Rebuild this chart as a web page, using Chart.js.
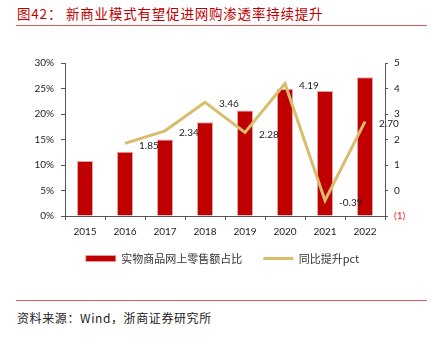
<!DOCTYPE html>
<html>
<head>
<meta charset="utf-8">
<script src="https://cdn.jsdelivr.net/npm/chart.js@4"></script>
<style>
  html, body { margin: 0; padding: 0; background: #fff; }
  #page { position: relative; width: 431px; height: 337px; overflow: hidden; font-family: "Noto Sans CJK SC", sans-serif; }
  .title { position: absolute; left: 17px; top: 3px; font-size: 13.5px; color: #C00000; white-space: nowrap; letter-spacing: 0.8px; }
  .rule { position: absolute; left: 16px; width: 411px; height: 1px; background: #E05A5A; }
  .source { position: absolute; left: 17px; top: 309px; font-size: 12px; color: #222; white-space: nowrap; letter-spacing: 0.6px; }
  #wrap { position: absolute; left: 0; top: 40px; width: 431px; height: 240px; }
</style>
</head>
<body>
<div id="page">
  <div class="title">图42：&nbsp;新商业模式有望促进网购渗透率持续提升</div>
  <div class="rule" style="top:25px"></div>
  <div id="wrap"><canvas id="combo"></canvas></div>
  <div class="rule" style="top:300px"></div>
  <div class="source">资料来源：Wind，浙商证券研究所</div>
</div>
<script>
// Online share of physical goods retail sales, and the yearly change in pct points
const years = ['2015', '2016', '2017', '2018', '2019', '2020', '2021', '2022'];
const onlineShare = [10.8, 12.6, 15.0, 18.4, 20.7, 24.9, 24.5, 27.2];
const pctChange = [null, 1.85, 2.34, 3.46, 2.28, 4.19, -0.39, 2.70];
const shareTicks = [0, 5, 10, 15, 20, 25, 30];
const changeTicks = [-1, 0, 1, 2, 3, 4, 5];

const tickFont = { family: 'Lato', size: 10 };

// value labels to the right of each line vertex
const lineLabels = {
    id: 'lineLabels',
    afterDatasetsDraw(chart) {
        const meta = chart.getDatasetMeta(1);
        const ctx = chart.ctx;
        ctx.save();
        ctx.font = '10px Lato';
        ctx.fillStyle = '#222';
        ctx.textAlign = 'left';
        ctx.textBaseline = 'middle';
        meta.data.forEach((pt, i) => {
            if (pctChange[i] === null) return;
            ctx.fillText(pctChange[i].toFixed(2), pt.x + 14, pt.y + 2);
        });
        ctx.restore();
    }
};

new Chart(document.getElementById('combo'), {
    data: {
        labels: years,
        datasets: [{
            type: 'bar',
            label: '实物商品网上零售额占比',
            data: onlineShare,
            yAxisID: 'y',
            backgroundColor: '#C00000',
            borderColor: '#E9A3A3',
            borderWidth: { left: 1, right: 1, top: 1, bottom: 0 },
            barPercentage: 0.4,
            categoryPercentage: 1,
            pointStyle: 'rect',
            order: 1
        }, {
            type: 'line',
            label: '同比提升pct',
            data: pctChange,
            yAxisID: 'y1',
            borderColor: '#D9BD6D',
            backgroundColor: '#D9BD6D',
            borderWidth: 3,
            pointRadius: 0,
            tension: 0,
            pointStyle: 'line',
            order: 0
        }]
    },
    options: {
        responsive: true,
        maintainAspectRatio: false,
        animation: false,
        layout: { padding: { top: 23, bottom: 6, left: 14, right: 0 } },
        plugins: {
            tooltip: { enabled: false },
            legend: {
                position: 'bottom',
                labels: {
                    usePointStyle: true,
                    pointStyleWidth: 30,
                    boxHeight: 6,
                    padding: 10,
                    color: '#333',
                    font: { family: '"Noto Sans CJK SC"', size: 11 },
                    generateLabels: (chart) => {
                        const items = Chart.defaults.plugins.legend.labels.generateLabels(chart);
                        // wider gap after the bar entry
                        items.forEach(it => { if (it.datasetIndex === 0) it.text += '\u3000'; });
                        return items;
                    },
                    sort: (a, b) => a.datasetIndex - b.datasetIndex
                }
            }
        },
        scales: {
            x: {
                offset: true,
                grid: { offset: true, drawOnChartArea: false, tickLength: 4, color: '#555' },
                border: { color: '#555' },
                ticks: { color: '#222', font: tickFont, padding: 6 },
                afterFit: (s) => { s.height = 27; }
            },
            y: {
                position: 'left',
                min: 0,
                max: 30,
                afterBuildTicks: (s) => { s.ticks = shareTicks.map(v => ({ value: v })); },
                grid: { drawOnChartArea: false, tickLength: 4, color: '#555' },
                border: { color: '#555' },
                ticks: { color: '#222', font: tickFont, padding: 7, callback: (v) => v + '%' },
                afterFit: (s) => { s.width = 51; }
            },
            y1: {
                position: 'right',
                min: -1,
                max: 5,
                afterBuildTicks: (s) => { s.ticks = changeTicks.map(v => ({ value: v })); },
                grid: { drawOnChartArea: false, tickLength: 3, color: '#555' },
                border: { color: '#555' },
                ticks: {
                    font: tickFont,
                    padding: 6,
                    color: (c) => c.tick && c.tick.value < 0 ? '#FF2020' : '#222',
                    callback: (v) => v < 0 ? '(' + (-v) + ')' : String(v)
                },
                afterFit: (s) => { s.width = 46; }
            }
        }
    },
    plugins: [lineLabels]
});
</script>
</body>
</html>
